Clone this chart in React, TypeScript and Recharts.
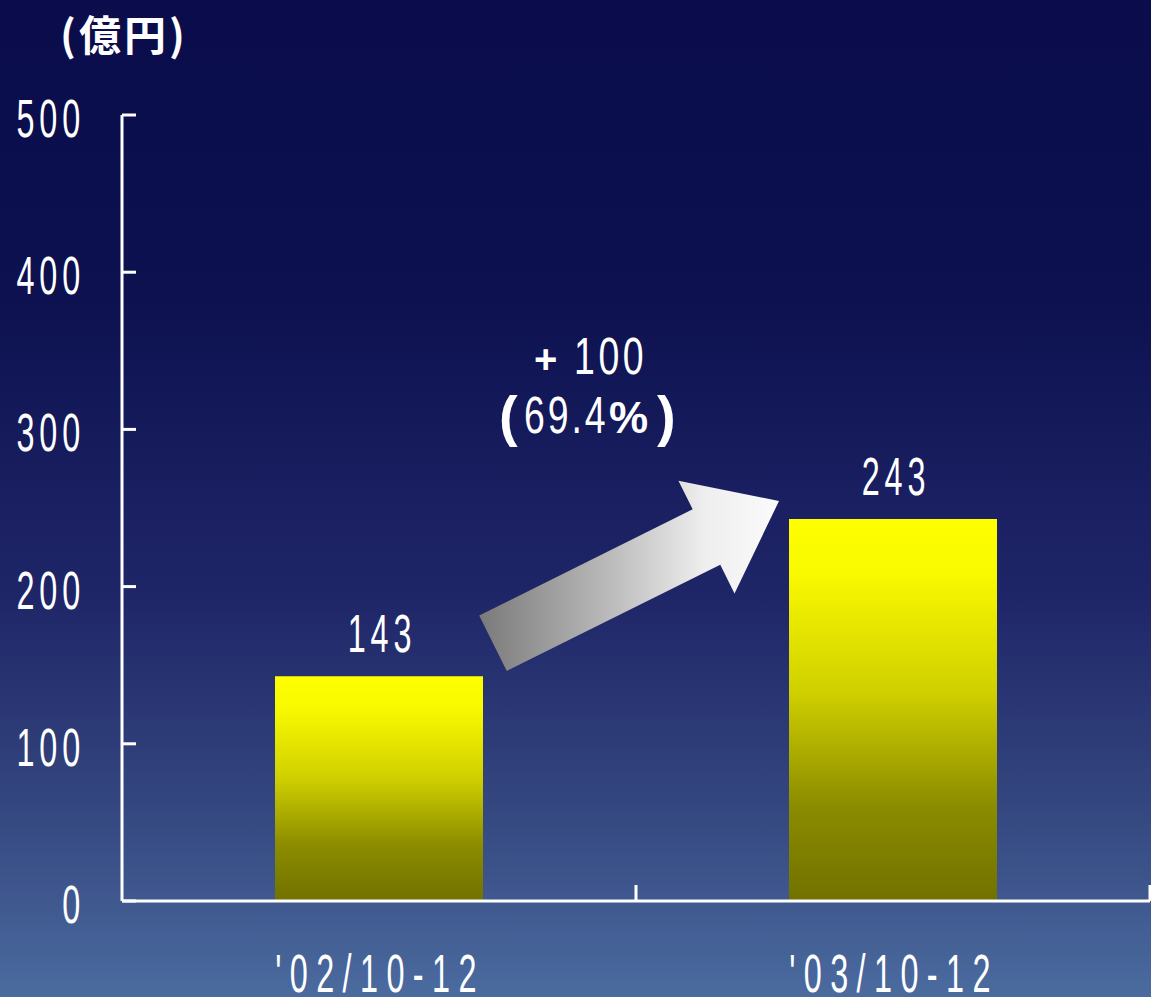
import { BarChart, Bar, XAxis, YAxis, LabelList, Customized } from 'recharts';

// 売上高（億円）
const categories = ["'02/10-12", "'03/10-12"];
const sales = [143, 243];
const yTicks = [0, 100, 200, 300, 400, 500];
const diffLabel = '100';
const pctLabel = '69.4';

const data = categories.map((c, i) => ({ period: c, value: sales[i] }));

const W = 1151;
const H = 997;
const TOP = 115;
const BOTTOM = 96;
const LEFT = 122;
const RIGHT = 1;
const PLOT_W = W - LEFT - RIGHT;
const PLOT_H = H - TOP - BOTTOM;
const BAND = PLOT_W / categories.length;
const BAR = 208;
const Y_MAX = 500;
const FONT = '"Liberation Sans", Arial, sans-serif';

const yPx = (v: number) => TOP + (1 - v / Y_MAX) * PLOT_H;
const xCenter = (i: number) => LEFT + BAND * (i + 0.5);

// 細長い数字（Arial Narrow 風）
function NText({ x, y, children, size = 54, sx = 0.6, ls = 8, anchor = 'middle', weight = 'normal' }: any) {
  return (
    <text
      transform={`translate(${x},${y}) scale(${sx},1)`}
      textAnchor={anchor}
      fill="#fff"
      fontSize={size}
      fontWeight={weight}
      fontFamily={FONT}
      letterSpacing={ls}
    >
      {children}
    </text>
  );
}

function YTick({ y, payload }: any) {
  return (
    <g>
      <line x1={LEFT} x2={LEFT + 14} y1={y} y2={y} stroke="#fff" strokeWidth={3} />
      <NText x={85} y={y + 22} anchor="end">
        {payload.value}
      </NText>
    </g>
  );
}

function XTick({ x, payload }: any) {
  const axisY = H - BOTTOM;
  return (
    <g>
      <line x1={x + BAND / 2} x2={x + BAND / 2} y1={axisY - 16} y2={axisY} stroke="#fff" strokeWidth={3} />
      <NText x={x + 1} y={axisY + 91} ls={14}>
        {payload.value}
      </NText>
    </g>
  );
}

function BarValue({ x, y, width, value }: any) {
  return (
    <NText x={x + width / 2 + 3} y={y - 24}>
      {value}
    </NText>
  );
}

// 増加を示す矢印と注記
function GrowthArrow() {
  const tx = xCenter(0) + BAR / 2 + 10;
  const ty = yPx(sales[0]) - 33;
  const hx = xCenter(1) - BAR / 2 - 10;
  const hy = yPx(sales[1]) - 18;
  const dx = hx - tx;
  const dy = hy - ty;
  const len = Math.hypot(dx, dy);
  const ux = dx / len;
  const uy = dy / len;
  const nx = -uy;
  const ny = ux;
  const shaft = 31;
  const wing = 63;
  const headLen = 81;
  const bx = hx - ux * headLen;
  const by = hy - uy * headLen;
  const pts = [
    [tx + nx * shaft, ty + ny * shaft],
    [tx - nx * shaft, ty - ny * shaft],
    [bx - nx * shaft, by - ny * shaft],
    [bx - nx * wing, by - ny * wing],
    [hx, hy],
    [bx + nx * wing, by + ny * wing],
    [bx + nx * shaft, by + ny * shaft],
  ]
    .map((p) => p.join(','))
    .join(' ');
  const ax = (xCenter(0) + xCenter(1)) / 2 - 136;
  return (
    <g>
      <polygon points={pts} fill="url(#arrowGrad)" />
      <text x={ax + 34} y={373} fill="#fff" fontSize={40} fontWeight="bold" fontFamily={FONT}>
        +
      </text>
      <NText x={ax + 74} y={374} size={52} sx={0.72} ls={5} anchor="start">
        {diffLabel}
      </NText>
      <text x={ax - 1} y={435} fill="#fff" fontSize={56} fontWeight="bold" fontFamily={FONT}>
        (
      </text>
      <NText x={ax + 24} y={433} size={52} sx={0.72} ls={4} anchor="start">
        {pctLabel}
      </NText>
      <text x={ax + 109} y={433} fill="#fff" fontSize={44} fontWeight="bold" fontFamily={FONT}>
        %
      </text>
      <text x={ax + 157} y={435} fill="#fff" fontSize={56} fontWeight="bold" fontFamily={FONT}>
        )
      </text>
    </g>
  );
}

export default function App() {
  return (
    <div
      style={{
        position: 'absolute',
        left: 0,
        top: 0,
        width: W,
        height: H,
        overflow: 'hidden',
        background: 'linear-gradient(to bottom, #0a0c4b 0%, #0d1150 30%, #1f2668 60%, #33457e 80%, #4b6b9f 100%)',
      }}
    >
      <div
        style={{
          position: 'absolute',
          left: 60,
          top: 2,
          color: '#fff',
          fontSize: 42,
          fontWeight: 'bold',
          fontFamily: '"Noto Sans CJK JP", sans-serif',
          letterSpacing: 3,
        }}
      >
        (億円)
      </div>
      <BarChart width={W} height={H} data={data} margin={{ top: TOP, right: RIGHT, bottom: 0, left: 0 }}>
        <defs>
          <linearGradient id="barGrad" x1="0" y1="0" x2="0" y2="1">
            <stop offset="0%" stopColor="#ffff00" />
            <stop offset="15%" stopColor="#f8f800" />
            <stop offset="45%" stopColor="#d0d000" />
            <stop offset="75%" stopColor="#8c8c00" />
            <stop offset="100%" stopColor="#717100" />
          </linearGradient>
          <linearGradient id="arrowGrad" x1="0" y1="0" x2="1" y2="0">
            <stop offset="0%" stopColor="#7a7a7a" />
            <stop offset="45%" stopColor="#bdbdbd" />
            <stop offset="75%" stopColor="#eeeeee" />
            <stop offset="100%" stopColor="#fbfbfb" />
          </linearGradient>
        </defs>
        <XAxis
          dataKey="period"
          height={BOTTOM}
          axisLine={{ stroke: '#fff', strokeWidth: 3 }}
          tickLine={false}
          tick={<XTick />}
          interval={0}
        />
        <YAxis
          width={LEFT}
          domain={[0, Y_MAX]}
          ticks={yTicks}
          axisLine={{ stroke: '#fff', strokeWidth: 3 }}
          tickLine={false}
          tick={<YTick />}
        />
        <Bar dataKey="value" barSize={BAR} fill="url(#barGrad)" isAnimationActive={false}>
          <LabelList dataKey="value" content={<BarValue />} />
        </Bar>
        <Customized component={<GrowthArrow />} />
      </BarChart>
    </div>
  );
}
